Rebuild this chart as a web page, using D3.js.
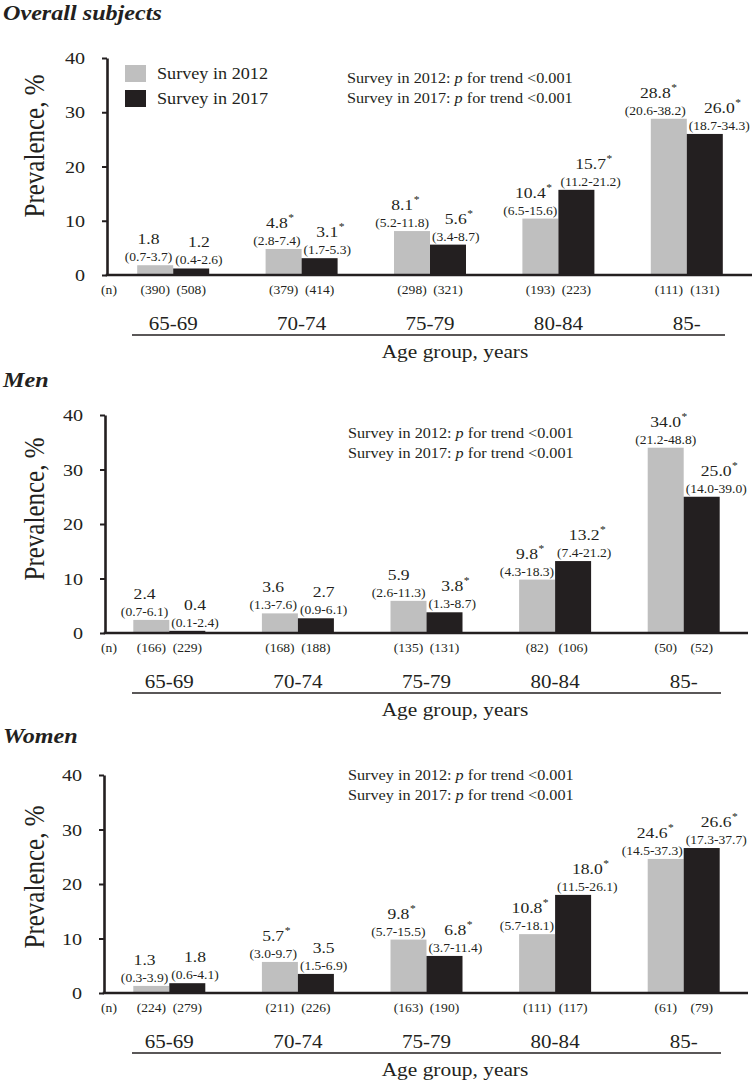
<!DOCTYPE html>
<html><head><meta charset="utf-8">
<script src="https://cdn.jsdelivr.net/npm/d3@7"></script>
<style>html,body{margin:0;padding:0;background:#fff;} svg{display:block;}</style>
</head><body><svg id="chart" width="753" height="1081"></svg>
<script>
// ---------- DATA ----------
const ageGroups = ["65-69", "70-74", "75-79", "80-84", "85-"];
const surveys = ["Survey in 2012", "Survey in 2017"];
const yTicks = [0, 10, 20, 30, 40];
const trendNotes = ["Survey in 2012", "Survey in 2017"];

const overall2012 = [1.8, 4.8, 8.1, 10.4, 28.8];
const overall2012CI = ["0.7-3.7", "2.8-7.4", "5.2-11.8", "6.5-15.6", "20.6-38.2"];
const overall2012Sig = [false, true, true, true, true];
const overall2012N = [390, 379, 298, 193, 111];
const overall2017 = [1.2, 3.1, 5.6, 15.7, 26.0];
const overall2017CI = ["0.4-2.6", "1.7-5.3", "3.4-8.7", "11.2-21.2", "18.7-34.3"];
const overall2017Sig = [false, true, true, true, true];
const overall2017N = [508, 414, 321, 223, 131];

const men2012 = [2.4, 3.6, 5.9, 9.8, 34.0];
const men2012CI = ["0.7-6.1", "1.3-7.6", "2.6-11.3", "4.3-18.3", "21.2-48.8"];
const men2012Sig = [false, false, false, true, true];
const men2012N = [166, 168, 135, 82, 50];
const men2017 = [0.4, 2.7, 3.8, 13.2, 25.0];
const men2017CI = ["0.1-2.4", "0.9-6.1", "1.3-8.7", "7.4-21.2", "14.0-39.0"];
const men2017Sig = [false, false, true, true, true];
const men2017N = [229, 188, 131, 106, 52];

const women2012 = [1.3, 5.7, 9.8, 10.8, 24.6];
const women2012CI = ["0.3-3.9", "3.0-9.7", "5.7-15.5", "5.7-18.1", "14.5-37.3"];
const women2012Sig = [false, true, true, true, true];
const women2012N = [224, 211, 163, 111, 61];
const women2017 = [1.8, 3.5, 6.8, 18.0, 26.6];
const women2017CI = ["0.6-4.1", "1.5-6.9", "3.7-11.4", "11.5-26.1", "17.3-37.7"];
const women2017Sig = [false, false, true, true, true];
const women2017N = [279, 226, 190, 117, 79];

// ---------- LAYOUT / STYLE ----------
const FONT = "'Liberation Serif','Times New Roman',serif";
const INK = "#231f20";
const color = d3.scaleOrdinal().domain(surveys).range(["#bfbfbf", "#231f20"]);
const SX = 1.15;      // horizontal glyph stretch of the original
const BAR_W = 36;
const LABEL_H = 36;

const panels = [
  { title: "Overall subjects", titleY: 20, y40: 58, y0: 275, axisX: 107, band: [109, 751], xEnd: 752, notesX: 347, notesY: 78, ylabY: 146, legend: true,
    series: [
      { v: overall2012, ci: overall2012CI, sig: overall2012Sig, n: overall2012N },
      { v: overall2017, ci: overall2017CI, sig: overall2017Sig, n: overall2017N } ] },
  { title: "Men", titleY: 387, y40: 415, y0: 633, axisX: 105, band: [105, 748], xEnd: 748, notesX: 348, notesY: 433, ylabY: 509, legend: false,
    series: [
      { v: men2012, ci: men2012CI, sig: men2012Sig, n: men2012N },
      { v: men2017, ci: men2017CI, sig: men2017Sig, n: men2017N } ] },
  { title: "Women", titleY: 743, y40: 775, y0: 993, axisX: 104, band: [105, 748], xEnd: 748, notesX: 348, notesY: 775, ylabY: 877, legend: false,
    series: [
      { v: women2012, ci: women2012CI, sig: women2012Sig, n: women2012N },
      { v: women2017, ci: women2017CI, sig: women2017Sig, n: women2017N } ] }
];

const svg = d3.select("#chart");
svg.append("rect").attr("width", 753).attr("height", 1081).attr("fill", "#fff");

function txt(g, x, y, str, size, anchor, extra) {
  const t = g.append("text")
    .attr("transform", `translate(${x},${y}) scale(${SX},1)`)
    .attr("font-family", FONT).attr("font-size", size)
    .attr("text-anchor", anchor || "start").attr("fill", INK)
    .text(str);
  if (extra) extra(t);
  return t;
}

function drawPanel(p) {
  const g = svg.append("g");
  const y = d3.scaleLinear().domain([0, 40]).range([p.y0, p.y40]);
  const x0 = d3.scaleBand().domain(ageGroups).range(p.band);
  const x1 = d3.scaleBand().domain(surveys)
    .range([x0.bandwidth() / 2 - BAR_W, x0.bandwidth() / 2 + BAR_W]);

  const rows = ageGroups.flatMap((grp, i) => surveys.map((sv, j) => ({
    grp, sv, j, value: p.series[j].v[i], ci: p.series[j].ci[i], sig: p.series[j].sig[i], n: p.series[j].n[i], i
  })));

  // title
  txt(g, 3, p.titleY, p.title, 21, "start", t => t.attr("font-weight", "bold").attr("font-style", "italic"));

  // bars
  g.selectAll("rect.bar").data(rows).join("rect").attr("class", "bar")
    .attr("x", d => x0(d.grp) + x1(d.sv))
    .attr("y", d => y(d.value))
    .attr("width", x1.bandwidth())
    .attr("height", d => y(0) - y(d.value))
    .attr("fill", d => color(d.sv));

  // y axis
  const ya = g.append("g").attr("transform", `translate(${p.axisX},0)`)
    .call(d3.axisLeft(y).tickValues(yTicks).tickSize(5).tickSizeOuter(0).tickPadding(17));
  ya.select(".domain").attr("stroke", INK).attr("stroke-width", 2.6);
  ya.selectAll(".tick line").attr("stroke", INK).attr("stroke-width", 2);
  ya.selectAll(".tick text").each(function () {
    const t = d3.select(this);
    const xx = +t.attr("x");
    t.attr("x", xx / SX).attr("transform", `scale(${SX},1)`)
      .attr("font-family", FONT).attr("font-size", 17.5).attr("fill", INK);
  });

  // x baseline
  g.append("line").attr("x1", p.axisX - 1.3).attr("x2", p.xEnd)
    .attr("y1", y(0)).attr("y2", y(0)).attr("stroke", INK).attr("stroke-width", 2.6);

  // y label
  g.append("text")
    .attr("transform", `translate(44,${p.ylabY}) scale(${SX},1) rotate(-90)`)
    .attr("font-family", FONT).attr("font-size", 25).attr("text-anchor", "middle").attr("fill", INK)
    .text("Prevalence, %");

  // value / CI labels
  rows.forEach(d => {
    const bx = x0(d.grp) + x1(d.sv), bw = x1.bandwidth(), top = y(d.value);
    const other = rows.find(o => o.grp === d.grp && o.j !== d.j);
    const otherTop = y(other.value);
    let anchor, ax;
    if (d.j === 0) {
      if (top < otherTop - LABEL_H) { anchor = "middle"; ax = bx + bw / 2; }
      else { anchor = "end"; ax = bx + bw - 1; }
    } else { anchor = "start"; ax = bx + 2; }
    const ciT = txt(g, ax, top - 4, "(" + d.ci + ")", 11.8, anchor);
    const w = ciT.node().getComputedTextLength() * SX;
    const cx = anchor === "middle" ? ax : anchor === "end" ? ax - w / 2 : ax + w / 2;
    const vT = txt(g, cx, top - 21, d.value.toFixed(1), 15.3, "middle");
    const wv = vT.node().getComputedTextLength() * SX;
    if (d.sig) txt(g, cx + wv / 2 + 0.5, top - 28, "*", 10, "start");
    // n labels
    txt(g, bx + bw / 2, y(0) + 19, "(" + d.n + ")", 11.8, "middle");
  });
  txt(g, 109, y(0) + 19, "(n)", 11.8, "middle");

  // group labels
  ageGroups.forEach(grp => txt(g, x0(grp) + x0.bandwidth() / 2, y(0) + 55, grp, 18.3, "middle"));
  g.append("line").attr("x1", 132).attr("x2", p.xEnd - 27)
    .attr("y1", y(0) + 60).attr("y2", y(0) + 60).attr("stroke", INK).attr("stroke-width", 1.5);
  txt(g, 455, y(0) + 83, "Age group, years", 18.6, "middle");

  // trend notes
  trendNotes.forEach((s, k) => {
    txt(g, p.notesX, p.notesY + 5 + k * 19.5, "", 14.1, "start", t => {
      t.append("tspan").text(s + ": ");
      t.append("tspan").attr("font-style", "italic").text("p");
      t.append("tspan").text(" for trend <0.001");
    });
  });

  // legend
  if (p.legend) {
    surveys.forEach((s, k) => {
      g.append("rect").attr("x", 125).attr("y", 65 + k * 25).attr("width", 21).attr("height", 17).attr("fill", color(s));
      txt(g, 157, 79 + k * 25, s, 15.8, "start");
    });
  }
}

panels.forEach(drawPanel);
</script>
</body></html>
